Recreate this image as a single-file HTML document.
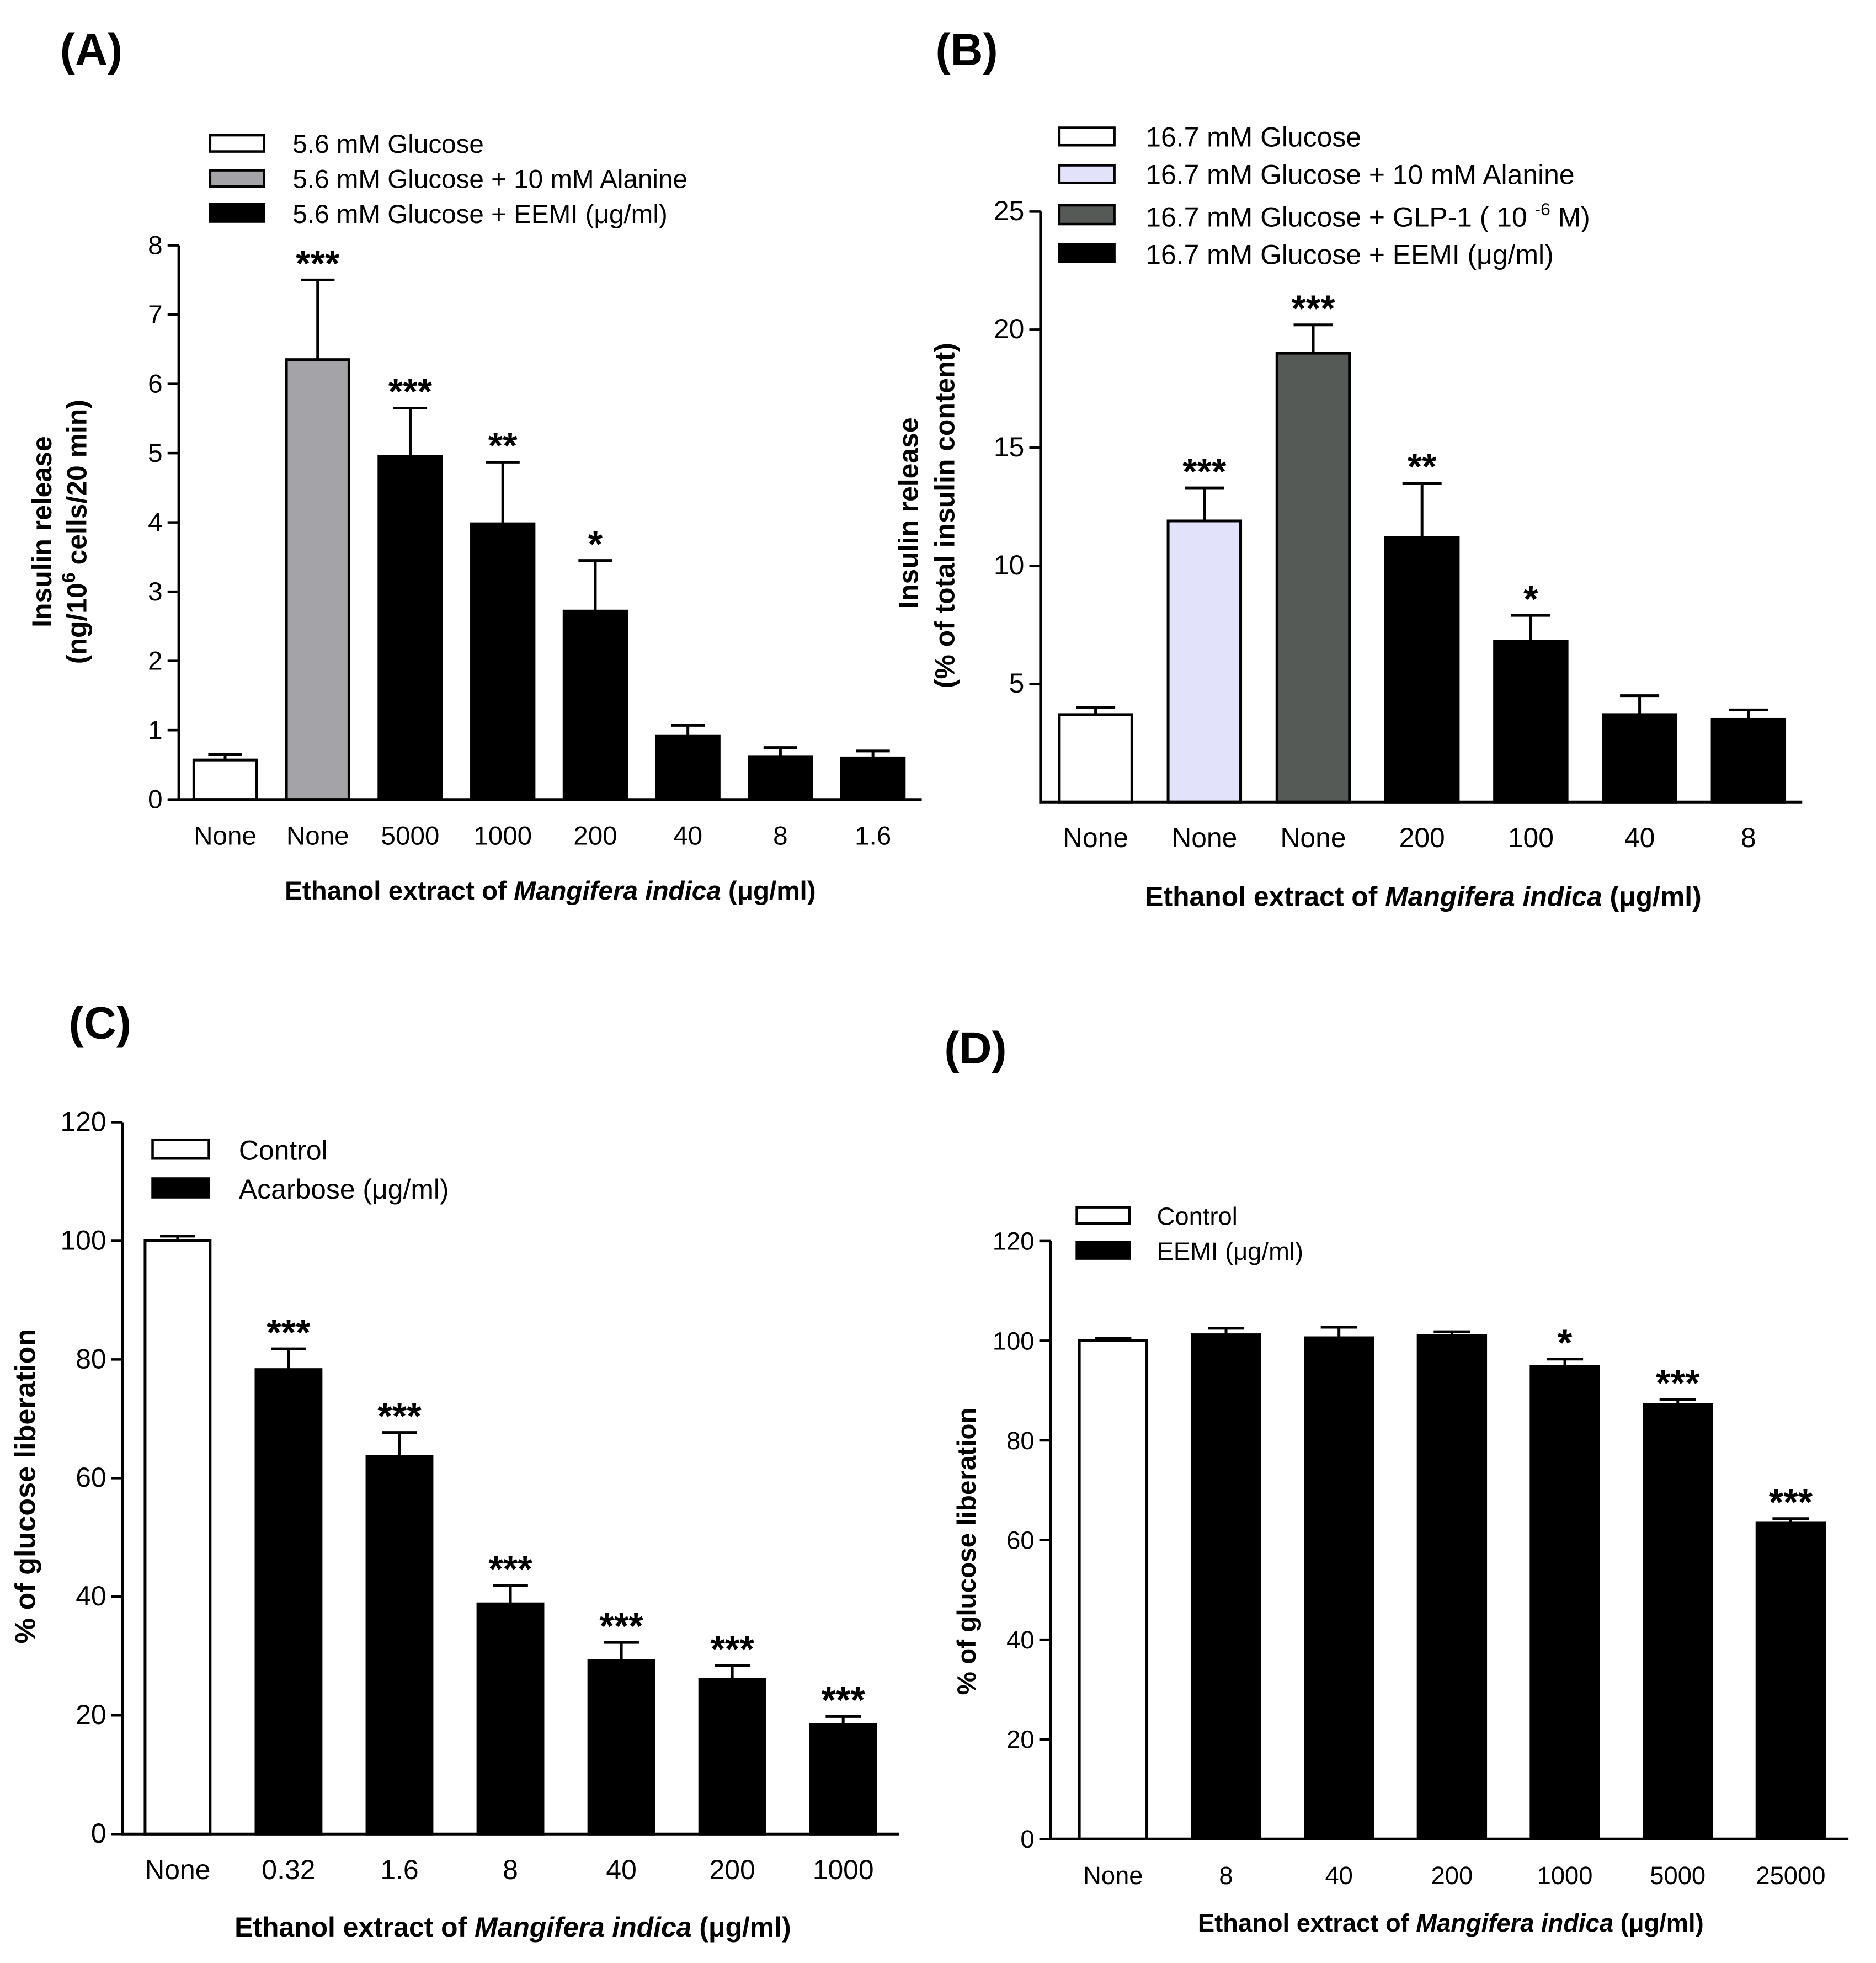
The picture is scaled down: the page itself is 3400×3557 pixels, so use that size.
<!DOCTYPE html>
<html><head><meta charset="utf-8"><style>
html,body{margin:0;padding:0;background:#fff;}
svg{display:block;font-family:"Liberation Sans",Arial,sans-serif;}
</style></head><body>
<svg id="fig" width="3400" height="3557" viewBox="0 0 1500 1569" xmlns="http://www.w3.org/2000/svg">
<rect width="1500" height="1569" fill="#fff"/>
</svg>
<script>
// Panel A data
const catsA = ["None","None","5000","1000","200","40","8","1.6"];
const valsA = [0.57,6.35,4.95,3.98,2.72,0.92,0.62,0.6];
const errsA = [0.65,7.5,5.65,4.87,3.45,1.07,0.75,0.7];
const starsA = ["","***","***","**","*","","",""];
const ticksA = [0,1,2,3,4,5,6,7,8];
// Panel B data
const catsB = ["None","None","None","200","100","40","8"];
const valsB = [3.7,11.9,19.0,11.2,6.8,3.7,3.5];
const errsB = [4.0,13.3,20.2,13.5,7.9,4.5,3.9];
const starsB = ["","***","***","**","*","",""];
const ticksB = [5,10,15,20,25];
// Panel C data
const catsC = ["None","0.32","1.6","8","40","200","1000"];
const valsC = [100,78.3,63.7,38.8,29.2,26.1,18.4];
const errsC = [100.8,81.8,67.7,41.9,32.3,28.4,19.8];
const starsC = ["","***","***","***","***","***","***"];
const ticksC = [0,20,40,60,80,100,120];
// Panel D data
const catsD = ["None","8","40","200","1000","5000","25000"];
const valsD = [100,101.2,100.6,101,94.8,87.2,63.5];
const errsD = [100.5,102.5,102.7,101.8,96.3,88.2,64.3];
const starsD = ["","","","","*","***","***"];
const ticksD = [0,20,40,60,80,100,120];

const svg = document.getElementById('fig');
const NS = "http://www.w3.org/2000/svg";
function mk(tag, attrs, parent, text){
  const e = document.createElementNS(NS, tag);
  for (const k in attrs) e.setAttribute(k, attrs[k]);
  if (text !== undefined) e.textContent = text;
  (parent||svg).appendChild(e);
  return e;
}

function panel(cfg){
  const g = mk('g', {});
  
  
  const y = v => cfg.y0 - (v - cfg.vmin) / (cfg.vmax - cfg.vmin) * (cfg.y0 - cfg.y1);
  const x = i => cfg.xFirst + i * cfg.step;
  cfg.vals.forEach((v,i)=>{
    const fill = cfg.colors[i];
    const r = mk('rect', {x: x(i)-cfg.bw/2, y: y(v), width: cfg.bw, height: y(cfg.vmin)-y(v), fill: fill, stroke:'#000','stroke-width':2.2}, g);
    
    
    const ey = y(cfg.errs[i]);
    const eb = mk('path', {d:`M${x(i)},${y(v)}V${ey}M${x(i)-cfg.bw*0.27},${ey}H${x(i)+cfg.bw*0.27}`, stroke:'#000','stroke-width':2.2, fill:'none'}, g);
    
    
    if (cfg.stars[i]) {
      const s = mk('text', {x:x(i), y: ey-3, 'text-anchor':'middle','font-size':30,'font-weight':'bold'}, g, cfg.stars[i]);
      
      
    }
    const t = mk('text', {x:x(i), y: cfg.y0+36, 'text-anchor':'middle','font-size':cfg.fs}, g, cfg.cats[i]);
    
    
  });
  const ax = mk('path', {d:`M${cfg.ax},${y(cfg.vmax)}V${cfg.y0}H${cfg.axEnd}`, stroke:'#000','stroke-width':2.2, fill:'none'}, g);
  
  
  cfg.ticks.forEach(t=>{
    mk('path', {d:`M${cfg.ax-9},${y(t)}H${cfg.ax}`, stroke:'#000','stroke-width':2}, g);
    const l = mk('text', {x:cfg.ax-13, y:y(t)+7, 'text-anchor':'end','font-size':cfg.fs}, g, String(t));
    
    
  });
  return g;
}
const W='#fff', K='#000';
panel({name:'panel-a-chart', cats:catsA, vals:valsA, errs:errsA, stars:starsA, ticks:ticksA,
  vmin:0, vmax:8, y0:639, y1:196, ax:143, axEnd:737, xFirst:180, step:74, bw:50, fs:21,
  colors:[W,'#a4a4a8',K,K,K,K,K,K]});
panel({name:'panel-b-chart', cats:catsB, vals:valsB, errs:errsB, stars:starsB, ticks:ticksB,
  vmin:0, vmax:25, y0:641, y1:169, ax:832, axEnd:1441, xFirst:876, step:87, bw:58, fs:22,
  colors:[W,'#e2e2fa','#565a56',K,K,K,K]});
panel({name:'panel-c-chart', cats:catsC, vals:valsC, errs:errsC, stars:starsC, ticks:ticksC,
  vmin:0, vmax:120, y0:1466, y1:897, ax:98, axEnd:719, xFirst:142, step:88.7, bw:52, fs:22,
  colors:[W,K,K,K,K,K,K]});
panel({name:'panel-d-chart', cats:catsD, vals:valsD, errs:errsD, stars:starsD, ticks:ticksD,
  vmin:0, vmax:120, y0:1470, y1:992, ax:840, axEnd:1478, xFirst:890, step:90.3, bw:54, fs:20,
  colors:[W,K,K,K,K,K,K]});
</script>
<svg style="position:absolute;left:0;top:0" width="3400" height="3557" viewBox="0 0 1500 1569" xmlns="http://www.w3.org/2000/svg" font-family="Liberation Sans, Arial, sans-serif">
<g font-weight="bold" font-size="36">
<text x="48" y="52">(A)</text>
<text x="748" y="52">(B)</text>
<text x="55" y="830">(C)</text>
<text x="755" y="850">(D)</text>
</g>
<g font-size="21" stroke="#000" stroke-width="2">
<rect x="168" y="108" width="43" height="13" fill="#fff"/><text x="234" y="122" stroke="none">5.6 mM Glucose</text>
<rect x="168" y="136" width="43" height="13" fill="#a4a4a8"/><text x="234" y="150" stroke="none">5.6 mM Glucose + 10 mM Alanine</text>
<rect x="168" y="163" width="43" height="14" fill="#000"/><text x="234" y="178" stroke="none">5.6 mM Glucose + EEMI (μg/ml)</text>
</g>
<text font-size="22" font-weight="bold" text-anchor="middle" transform="translate(41,425) rotate(-90)">Insulin release</text>
<text font-size="22" font-weight="bold" text-anchor="middle" transform="translate(69,425) rotate(-90)">(ng/10<tspan font-size="15" dy="-9">6</tspan><tspan dy="9"> cells/20 min)</tspan></text>
<text x="440" y="719" font-size="21" font-weight="bold" text-anchor="middle">Ethanol extract of <tspan font-style="italic">Mangifera indica</tspan> (μg/ml)</text>
<g font-size="22" stroke="#000" stroke-width="2">
<rect x="847" y="102" width="44" height="14" fill="#fff"/><text x="916" y="117" stroke="none">16.7 mM Glucose</text>
<rect x="847" y="132" width="44" height="14" fill="#e2e2fa"/><text x="916" y="147" stroke="none">16.7 mM Glucose + 10 mM Alanine</text>
<rect x="847" y="164" width="44" height="15" fill="#565a56"/><text x="916" y="181" stroke="none">16.7 mM Glucose  + GLP-1 ( 10 <tspan font-size="14" dy="-9">-6</tspan><tspan dy="9"> M)</tspan></text>
<rect x="847" y="195" width="44" height="14" fill="#000"/><text x="916" y="211" stroke="none">16.7 mM Glucose + EEMI (μg/ml)</text>
</g>
<text font-size="22" font-weight="bold" text-anchor="middle" transform="translate(734,410) rotate(-90)">Insulin release</text>
<text font-size="22" font-weight="bold" text-anchor="middle" transform="translate(763,412) rotate(-90)">(% of total  insulin content)</text>
<text x="1138" y="724" font-size="22" font-weight="bold" text-anchor="middle">Ethanol extract of <tspan font-style="italic">Mangifera indica</tspan> (μg/ml)</text>
<g font-size="22" stroke="#000" stroke-width="2">
<rect x="122" y="911" width="45" height="15" fill="#fff"/><text x="191" y="927" stroke="none">Control</text>
<rect x="122" y="942" width="45" height="15" fill="#000"/><text x="191" y="958" stroke="none">Acarbose  (μg/ml)</text>
</g>
<text font-size="23" font-weight="bold" text-anchor="middle" transform="translate(28,1188) rotate(-90)">% of glucose liberation</text>
<text x="410" y="1548" font-size="22" font-weight="bold" text-anchor="middle">Ethanol extract of <tspan font-style="italic">Mangifera indica</tspan> (μg/ml)</text>
<g font-size="20" stroke="#000" stroke-width="2">
<rect x="861" y="965" width="42" height="13" fill="#fff"/><text x="925" y="979" stroke="none">Control</text>
<rect x="861" y="993" width="42" height="13" fill="#000"/><text x="925" y="1007" stroke="none">EEMI (μg/ml)</text>
</g>
<text font-size="21" font-weight="bold" text-anchor="middle" transform="translate(780,1240) rotate(-90)">% of glucose liberation</text>
<text x="1160" y="1544" font-size="20" font-weight="bold" text-anchor="middle">Ethanol extract of <tspan font-style="italic">Mangifera indica</tspan> (μg/ml)</text>
</svg>
</body></html>
